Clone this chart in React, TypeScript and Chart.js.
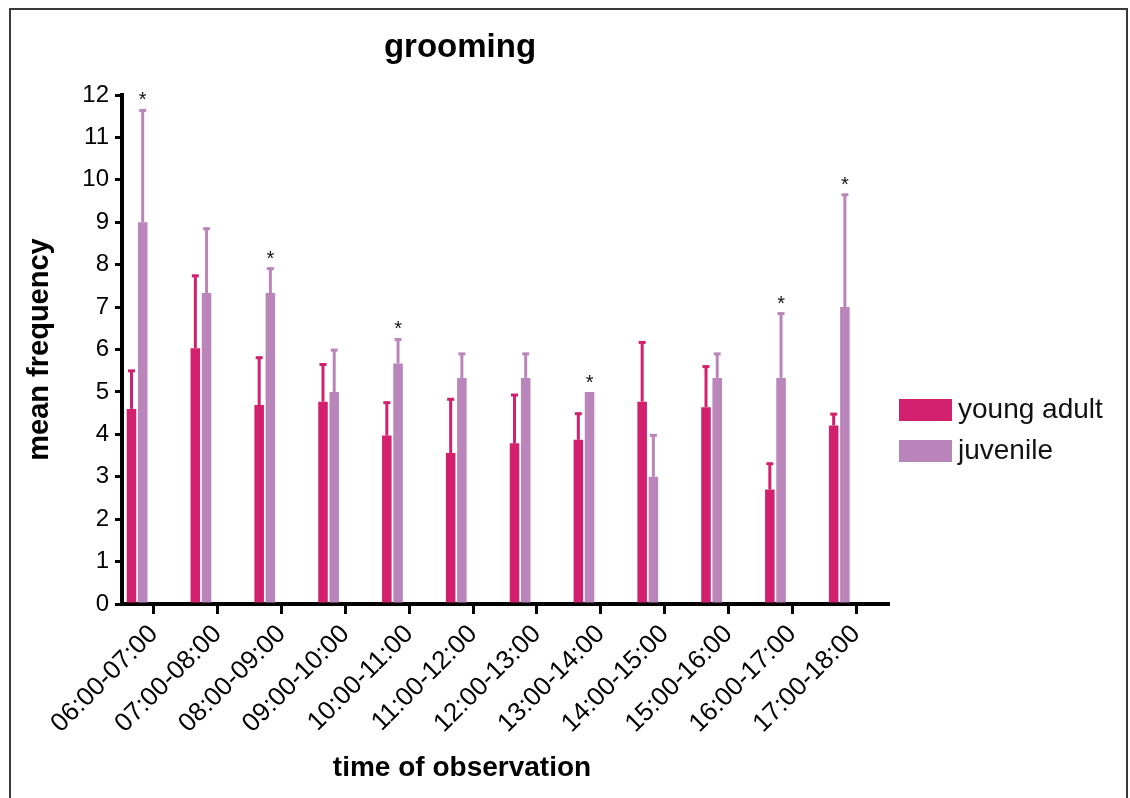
import React, { useEffect, useRef } from 'react';
import { Chart, registerables } from 'chart.js';

Chart.register(...registerables);

// ---- data ----
const categories = [
  '06:00-07:00', '07:00-08:00', '08:00-09:00', '09:00-10:00',
  '10:00-11:00', '11:00-12:00', '12:00-13:00', '13:00-14:00',
  '14:00-15:00', '15:00-16:00', '16:00-17:00', '17:00-18:00',
];
const seriesLabels = ['young adult', 'juvenile'];
const youngAdult = [4.6, 6.03, 4.69, 4.77, 3.97, 3.56, 3.79, 3.87, 4.77, 4.64, 2.7, 4.21];
const youngAdultSem = [0.92, 1.73, 1.14, 0.9, 0.8, 1.29, 1.16, 0.64, 1.42, 0.98, 0.63, 0.29];
const juvenile = [9.0, 7.33, 7.33, 5.0, 5.67, 5.33, 5.33, 5.0, 3.0, 5.33, 5.33, 7.0];
const juvenileSem = [2.66, 1.54, 0.6, 1.01, 0.59, 0.59, 0.59, 0, 1.0, 0.59, 1.54, 2.67];
const significant = [true, false, true, false, true, false, false, true, false, false, true, true];
const yMin = 0;
const yMax = 12;
const yStep = 1;

// ---- style ----
const FONT = '"Liberation Sans", Arial, Helvetica, sans-serif';
const COLORS = ['#D2206E', '#B985BA'];
const SPACER_SLOTS = 3; // empty group slots so the bar pair sits left of each tick

const W = 1130;
const H = 798;

const decorPlugin = {
  id: 'decor',
  beforeDraw(chart: any) {
    const ctx = chart.ctx;
    ctx.save();
    ctx.fillStyle = '#ffffff';
    ctx.fillRect(0, 0, chart.width, chart.height);
    ctx.strokeStyle = '#3a3a3a';
    ctx.lineWidth = 2;
    ctx.strokeRect(10, 9, 1117, 820);
    ctx.restore();
  },
  afterDatasetsDraw(chart: any) {
    const ctx = chart.ctx;
    const yScale = chart.scales.y;
    const means = [youngAdult, juvenile];
    const sems = [youngAdultSem, juvenileSem];
    ctx.save();
    for (let d = 0; d < 2; d++) {
      const meta = chart.getDatasetMeta(d);
      meta.data.forEach((bar: any, i: number) => {
        const sem = sems[d][i];
        if (!(sem > 0)) return;
        const yTop = yScale.getPixelForValue(means[d][i] + sem);
        ctx.strokeStyle = COLORS[d];
        ctx.lineWidth = 3;
        ctx.lineCap = 'butt';
        ctx.beginPath();
        ctx.moveTo(bar.x, bar.y);
        ctx.lineTo(bar.x, yTop);
        ctx.stroke();
        ctx.beginPath();
        ctx.moveTo(bar.x - 3.5, yTop + 1);
        ctx.lineTo(bar.x + 3.5, yTop + 1);
        ctx.stroke();
      });
    }
    // significance stars above the juvenile bars
    const jm = chart.getDatasetMeta(1);
    ctx.fillStyle = '#111';
    ctx.font = `20px ${FONT}`;
    ctx.textAlign = 'center';
    ctx.textBaseline = 'alphabetic';
    significant.forEach((s, i) => {
      if (!s) return;
      const bar = jm.data[i];
      const yTop = yScale.getPixelForValue(juvenile[i] + juvenileSem[i]);
      ctx.fillText('*', bar.x, yTop - 3);
    });
    ctx.restore();
  },
  afterDraw(chart: any) {
    const ctx = chart.ctx;
    ctx.save();
    ctx.fillStyle = '#000';
    ctx.textAlign = 'center';
    ctx.textBaseline = 'alphabetic';
    ctx.font = `bold 33px ${FONT}`;
    ctx.fillText('grooming', 460, 57);
    ctx.font = `bold 28px ${FONT}`;
    ctx.fillText('time of observation', 462, 776);
    // legend
    ctx.textAlign = 'left';
    ctx.font = `28px ${FONT}`;
    for (let d = 0; d < 2; d++) {
      const top = 399 + d * 41;
      ctx.fillStyle = chart.data.datasets[d].backgroundColor;
      ctx.fillRect(899, top, 53, 22);
      ctx.fillStyle = '#111';
      ctx.fillText(chart.data.datasets[d].label, 958, top + 19);
    }
    ctx.restore();
  },
};

export default function App() {
  const ref = useRef<HTMLCanvasElement | null>(null);

  useEffect(() => {
    if (!ref.current) return;
    const spacers = Array.from({ length: SPACER_SLOTS }, () => ({
      label: '',
      data: [] as number[],
      backgroundColor: 'rgba(0,0,0,0)',
    }));
    const chart = new Chart(ref.current, {
      type: 'bar',
      data: {
        labels: categories,
        datasets: [
          { label: seriesLabels[0], data: youngAdult, backgroundColor: COLORS[0] },
          { label: seriesLabels[1], data: juvenile, backgroundColor: COLORS[1] },
          ...spacers,
        ],
      },
      options: {
        animation: false,
        responsive: false,
        devicePixelRatio: 1,
        categoryPercentage: 0.878,
        barPercentage: 0.85,
        layout: { padding: { top: 95, right: W - 888, bottom: 0, left: 0 } },
        plugins: {
          legend: { display: false },
          tooltip: { enabled: false },
          title: { display: false },
        },
        scales: {
          x: {
            type: 'category',
            offset: true,
            border: { display: true, width: 4, color: '#000' },
            grid: {
              display: true,
              offset: false,
              drawOnChartArea: false,
              drawTicks: true,
              tickLength: 10,
              lineWidth: 3,
              tickWidth: 3,
              color: '#000',
            },
            ticks: {
              color: '#000',
              font: { family: FONT, size: 26 },
              maxRotation: 45,
              minRotation: 45,
              padding: 5,
              autoSkip: false,
            },
            afterFit(scale: any) {
              scale.height = H - 604;
            },
          },
          y: {
            min: yMin,
            max: yMax,
            border: { display: true, width: 4, color: '#000' },
            grid: {
              display: true,
              drawOnChartArea: false,
              drawTicks: true,
              tickLength: 7,
              lineWidth: 3,
              tickWidth: 3,
              color: '#000',
            },
            ticks: {
              stepSize: yStep,
              color: '#000',
              font: { family: FONT, size: 24 },
              padding: 6,
            },
            title: {
              display: true,
              text: 'mean frequency',
              color: '#000',
              font: { family: FONT, size: 29, weight: 'bold' },
              padding: { top: 23, bottom: 0 },
            },
            afterFit(scale: any) {
              scale.width = 122;
            },
          },
        },
      },
      plugins: [decorPlugin],
    } as any);
    return () => chart.destroy();
  }, []);

  return (
    <div style={{ position: 'absolute', left: 0, top: 0, width: W, height: H, background: '#fff' }}>
      <canvas ref={ref} width={W} height={H} style={{ display: 'block' }} />
    </div>
  );
}
